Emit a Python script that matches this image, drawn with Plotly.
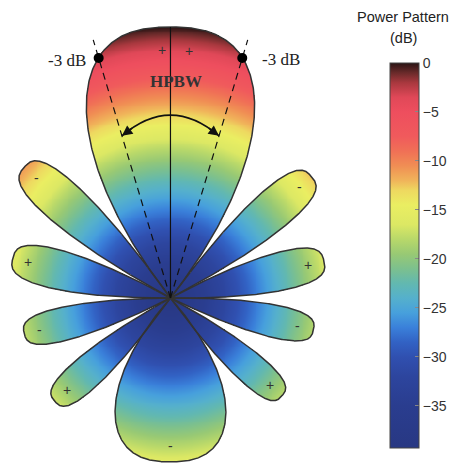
import numpy as np
import plotly.graph_objects as go

# ---------------- data ----------------
# lobe direction (deg, clockwise from broadside/up), peak level (dB), half width (deg)
lobe_angle_deg = [0.0, -48.5, 49.5, -76.0, 76.5, -103.5, 102.5, -131.5, 131.0, 180.0]
lobe_peak_db = [0.0, -10.9, -12.4, -15.8, -16.5, -17.6, -18.2, -17.0, -18.0, -15.8]
lobe_halfwidth_deg = [38.0, 12.8, 12.8, 14.2, 14.2, 13.0, 13.0, 12.5, 12.5, 41.6]
lobe_sign = ["+", "-", "-", "+", "+", "-", "-", "+", "+", "-"]
main_sign_angles_deg = [-2.0, 4.4]
lobe_exponent = 3.2
floor_db = -40.0
hpbw_deg = 33.6
half_power_db = -3.0
cbar_min_db = -39.3
cbar_max_db = 0.0
cbar_ticks = [0, -5, -10, -15, -20, -25, -30, -35]
cbar_title = ["Power Pattern", "(dB)"]

# ---------------- colour map (style) ----------------
cmap_db = [cbar_min_db, -35, -32, -30, -28.5, -27, -25.5, -24, -22.5, -21, -19.5, -18,
           -16.5, -14.5, -13, -12, -10.5, -9, -7.5, -5, -3.5, -2, -1, 0]
cmap_col = ["#283883", "#2a3d8f", "#2d459e", "#3050b0", "#3262c4", "#3a80da", "#47a0dc",
            "#55b0cc", "#62b8b0", "#7cc08e", "#98c974", "#b8d86a", "#dce864", "#eaee62",
            "#eed860", "#f0b45a", "#f08e54", "#f07056", "#f05a5c", "#ee4e5e", "#e04858",
            "#a8383e", "#6a2a2a", "#2a1414"]
colorscale = [[(d - cbar_min_db) / (cbar_max_db - cbar_min_db), c] for d, c in zip(cmap_db, cmap_col)]


def lobe_radius(phi, k):
    d = (np.asarray(phi) - lobe_angle_deg[k] + 180.0) % 360.0 - 180.0
    u = np.clip(np.abs(d) / lobe_halfwidth_deg[k], 0, 1)
    return (lobe_peak_db[k] - floor_db) * (1 - u ** lobe_exponent)


def pol(r, phi):
    a = np.radians(phi)
    return np.asarray(r) * np.sin(a), np.asarray(r) * np.cos(a)


# ---------------- geometry of the page ----------------
W, H = 451, 463
S = 271.0 / 40.0       # px per dB of radius
CX, CY = 172.0, 298.0  # pixel position of the pattern origin

# ---------------- colour fill (radius = level in dB) ----------------
xs = np.arange(-24.5, 24.5, 0.14)
ys = np.arange(-25.0, 40.6, 0.14)
X, Y = np.meshgrid(xs, ys)
rho = np.hypot(X, Y)
phi = np.degrees(np.arctan2(X, Y))
rpat = np.zeros_like(rho)
for k in range(len(lobe_angle_deg)):
    rpat = np.maximum(rpat, lobe_radius(phi, k))
Z = np.where(rho <= rpat, np.round(rho + floor_db, 2), np.nan)

fig = go.Figure()
fig.add_trace(go.Heatmap(
    x=xs, y=ys, z=Z, zmin=cbar_min_db, zmax=cbar_max_db, colorscale=colorscale,
    hoverinfo="skip", zsmooth=False,
    colorbar=dict(
        x=393 / W, xanchor="left", xpad=0, ypad=0,
        y=1 - 448 / H, yanchor="bottom", len=(448 - 63) / H, lenmode="fraction",
        thickness=29, thicknessmode="pixels",
        outlinewidth=1, outlinecolor="#444",
        tickvals=cbar_ticks, ticks="inside", ticklen=4, tickcolor="#888",
        tickfont=dict(family="Liberation Sans", size=14, color="#333"),
    ),
))

# lobe outlines
for k in range(len(lobe_angle_deg)):
    ph = np.linspace(lobe_angle_deg[k] - lobe_halfwidth_deg[k],
                     lobe_angle_deg[k] + lobe_halfwidth_deg[k], 400)
    r = lobe_radius(ph, k)
    x, y = pol(r, ph)
    fig.add_trace(go.Scatter(x=x, y=y, mode="lines", line=dict(color="#333", width=1.5),
                             hoverinfo="skip", showlegend=False))

# broadside line
x, y = pol([0, lobe_peak_db[0] - floor_db], [0, 0])
fig.add_trace(go.Scatter(x=x, y=y, mode="lines", line=dict(color="#111", width=1.2),
                         hoverinfo="skip", showlegend=False))

# dashed -3 dB directions and dots
for s in (-1, 1):
    x, y = pol([0, 39.8], [s * hpbw_deg / 2] * 2)
    fig.add_trace(go.Scatter(x=x, y=y, mode="lines",
                             line=dict(color="#111", width=1.2, dash="7px,5px"),
                             hoverinfo="skip", showlegend=False))
dx, dy = pol([half_power_db - floor_db] * 2, [-hpbw_deg / 2, hpbw_deg / 2])
fig.add_trace(go.Scatter(x=dx, y=dy, mode="markers", marker=dict(color="#000", size=10),
                         hoverinfo="skip", showlegend=False))

# HPBW arc with arrows
p0 = np.array(pol(25.0, -hpbw_deg / 2))
p2 = np.array(pol(25.0, hpbw_deg / 2))
apex = np.array([0.0, 27.0])
ctrl = 2 * apex - 0.5 * (p0 + p2)
fig.add_shape(type="path", xref="x", yref="y",
              path=f"M {p0[0]},{p0[1]} Q {ctrl[0]},{ctrl[1]} {p2[0]},{p2[1]}",
              line=dict(color="#111", width=1.6))


def bez(t):
    return (1 - t) ** 2 * p0 + 2 * (1 - t) * t * ctrl + t ** 2 * p2


annotations = []
for tip, tail in ((p0, bez(0.12)), (p2, bez(0.88))):
    annotations.append(dict(x=tip[0], y=tip[1], ax=tail[0], ay=tail[1], xref="x", yref="y",
                            axref="x", ayref="y", text="", showarrow=True, arrowhead=2,
                            arrowsize=1.3, arrowwidth=1.6, arrowcolor="#111", standoff=0))

serif = dict(family="Liberation Serif", size=17, color="#222")
annotations.append(dict(x=dx[0], y=dy[0], xref="x", yref="y", text="-3 dB", showarrow=False,
                        xanchor="right", xshift=-11, yshift=-2, font=serif))
annotations.append(dict(x=dx[1], y=dy[1], xref="x", yref="y", text="-3 dB", showarrow=False,
                        xanchor="left", xshift=18, yshift=-1, font=serif))
annotations.append(dict(x=0, y=31.9, xref="x", yref="y", text="<b>HPBW</b>", showarrow=False,
                        xshift=6, font=dict(family="Liberation Serif", size=17, color="#333")))

sign_font = dict(family="Liberation Sans", size=14, color="#333")
for a in main_sign_angles_deg:
    sx, sy = pol(lobe_peak_db[0] - floor_db - 3.4, a)
    annotations.append(dict(x=float(sx), y=float(sy), xref="x", yref="y", text="+",
                            showarrow=False, font=sign_font))
for k in range(1, len(lobe_angle_deg)):
    sx, sy = pol(lobe_peak_db[k] - floor_db - 2.4, lobe_angle_deg[k])
    annotations.append(dict(x=float(sx), y=float(sy), xref="x", yref="y", text=lobe_sign[k],
                            showarrow=False, font=sign_font))

for txt, py in zip(cbar_title, (17, 38)):
    annotations.append(dict(x=407 / W, y=1 - py / H, xref="paper", yref="paper", text=txt,
                            showarrow=False, xanchor="center", yanchor="middle",
                            font=dict(family="Liberation Sans", size=14.5, color="#222")))

fig.update_layout(
    width=W, height=H, margin=dict(l=0, r=0, t=0, b=0),
    paper_bgcolor="white", plot_bgcolor="white",
    xaxis=dict(range=[-CX / S, (W - CX) / S], visible=False, fixedrange=True),
    yaxis=dict(range=[(CY - H) / S, CY / S], visible=False, fixedrange=True),
    annotations=annotations, showlegend=False,
)

fig.write_html("out.html", config={"displayModeBar": False},
               post_script="document.body.style.margin='0';document.body.style.overflow='hidden';")
